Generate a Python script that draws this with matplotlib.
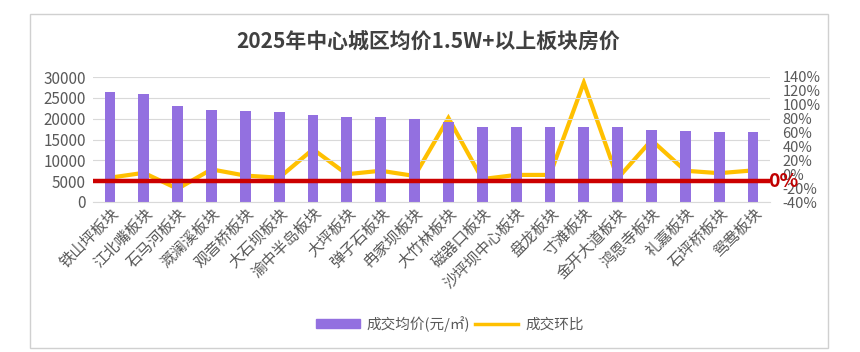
import matplotlib
matplotlib.use("Agg")
import matplotlib.pyplot as plt
from matplotlib.patches import Rectangle
from matplotlib.lines import Line2D
from matplotlib.ticker import FuncFormatter

plt.rcParams['font.family'] = ['Noto Sans CJK SC', 'DejaVu Sans']

title = "2025年中心城区均价1.5W+以上板块房价"
categories = ["铁山坪板块", "江北嘴板块", "石马河板块", "溉澜溪板块", "观音桥板块",
              "大石坝板块", "渝中半岛板块", "大坪板块", "弹子石板块", "冉家坝板块",
              "大竹林板块", "磁器口板块", "沙坪坝中心板块", "盘龙板块", "寸滩板块",
              "金开大道板块", "鸿恩寺板块", "礼嘉板块", "石坪桥板块", "鸳鸯板块"]
avg_price = [26500, 26000, 23000, 22200, 21900, 21500, 21000, 20300, 20300, 20000,
             19300, 18100, 17900, 17900, 17900, 17900, 17400, 17100, 16900, 16900]
mom_change = [-5, 2, -21, 7, -2, -5, 36, 0, 5, -2.5,
              81, -7, -1, -1, 132, -6, 49, 5, 1.5, 5.5]
ref_value = 5000
ref_label = "0%"
legend_labels = ["成交均价(元/㎡)", "成交环比"]

bar_color = "#9370E0"
line_color = "#FFC000"
red = "#CC0000"
tick_color = "#595959"

fig = plt.figure(figsize=(8.6, 3.52), dpi=100)
fig.patches.append(Rectangle((30/860, 1-348/352), 798/860, 334/352, transform=fig.transFigure,
                             fill=False, edgecolor="#D0D0D0", linewidth=1.0))

ax = fig.add_axes([93/860, 1-202/352, 677/860, 125/352])
x = list(range(len(categories)))
ax.bar(x, avg_price, width=0.32, color=bar_color, zorder=2)
ax.set_xlim(-0.5, len(categories)-0.5)
ax.set_ylim(0, 30000)
ax.set_yticks(range(0, 30001, 5000))
ax.grid(axis='y', color="#D9D9D9", linewidth=0.8, zorder=0)
for s in ["left", "right", "top"]:
    ax.spines[s].set_visible(False)
ax.spines["bottom"].set_color("#D9D9D9")
ax.tick_params(axis='y', length=0, labelsize=11, colors=tick_color, pad=5)
ax.tick_params(axis='x', length=0, pad=2)
ax.set_xticks(x)
ax.set_xticklabels(categories, rotation=45, ha='right', rotation_mode='anchor',
                   fontsize=11, color=tick_color)

ax2 = ax.twinx()
ax2.plot(x, mom_change, color=line_color, linewidth=3, zorder=3, solid_joinstyle='miter')
ax2.set_ylim(-40, 140)
ax2.set_yticks(range(-40, 141, 20))
ax2.yaxis.set_major_formatter(FuncFormatter(lambda v, p: f"{int(v)}%"))
for s in ax2.spines.values():
    s.set_visible(False)
ax2.tick_params(axis='y', length=0, labelsize=10.5, colors=tick_color, pad=9)

ax.axhline(ref_value, color=red, linewidth=3.2, zorder=4)
ax.set_zorder(ax2.get_zorder() + 1)
ax.patch.set_visible(False)
ax.text(0.997, ref_value, ref_label, transform=ax.get_yaxis_transform(), color="#C00000",
        fontsize=14, fontweight='bold', ha='left', va='center', zorder=5, clip_on=False)

fig.text(428/860, 1-42/352, title, ha='center', va='center', fontsize=15,
         fontweight='bold', color="#404040")

handles = [Rectangle((0, 0), 1, 1, color=bar_color),
           Line2D([0], [0], color=line_color, linewidth=2.5)]
fig.legend(handles, legend_labels, loc='center', bbox_to_anchor=(450/860, 1-324/352),
           ncol=2, frameon=False, fontsize=10.5, labelcolor=tick_color,
           handlelength=3.0, handleheight=0.6, columnspacing=0.3, handletextpad=0.5)

fig.savefig("out.png", dpi=100)
